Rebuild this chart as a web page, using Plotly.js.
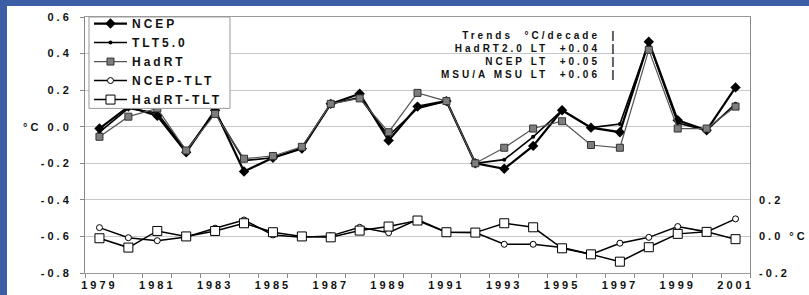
<!DOCTYPE html>
<html>
<head>
<meta charset="utf-8">
<script src="https://cdn.plot.ly/plotly-3.0.1.min.js"></script>
<style>
  html, body { margin: 0; padding: 0; background: #3b5ea6; width: 809px; height: 295px; overflow: hidden; }
  #chart { position: absolute; left: 7px; top: 6px; width: 802px; height: 289px; background: #ffffff; }
  .xtick text, .x2tick text, .ytick text, .y2tick text { letter-spacing: 3px; }
  .legendtext { letter-spacing: 3px; }
  .annotation-text { letter-spacing: 3px; }
</style>
</head>
<body>
<div id="chart"></div>
<script>
// ---- data ----
const years = [1979,1980,1981,1982,1983,1984,1985,1986,1987,1988,1989,1990,1991,1992,1993,1994,1995,1996,1997,1998,1999,2000,2001];
const yearLabels = [1979,1981,1983,1985,1987,1989,1991,1993,1995,1997,1999,2001];
const ncep   = [-0.01, 0.11, 0.06, -0.14, 0.09, -0.245, -0.17, -0.12, 0.125, 0.18, -0.075, 0.11, 0.14, -0.20, -0.23, -0.105, 0.09, -0.005, -0.03, 0.465, 0.035, -0.02, 0.215];
const tlt    = [-0.03, 0.10, 0.075, -0.13, 0.08, -0.185, -0.17, -0.115, 0.125, 0.16, -0.05, 0.10, 0.14, -0.20, -0.18, -0.055, 0.09, -0.005, 0.015, 0.46, 0.02, -0.02, 0.125];
const hadrt  = [-0.055, 0.055, 0.10, -0.13, 0.07, -0.175, -0.16, -0.11, 0.125, 0.155, -0.03, 0.185, 0.14, -0.20, -0.115, -0.01, 0.03, -0.10, -0.115, 0.42, -0.01, -0.01, 0.11];
const ncepTlt  = [0.048, -0.007, -0.023, -0.003, 0.045, 0.09, 0.008, -0.005, 0.003, 0.05, 0.02, 0.092, 0.023, 0.021, -0.043, -0.043, -0.06, -0.098, -0.037, -0.005, 0.054, 0.025, 0.096];
const hadrtTlt = [-0.01, -0.061, 0.03, 0.0, 0.03, 0.072, 0.023, 0.0, -0.005, 0.032, 0.054, 0.087, 0.023, 0.021, 0.072, 0.05, -0.065, -0.098, -0.138, -0.059, 0.014, 0.025, -0.015];
const leftTicks = [-0.8,-0.6,-0.4,-0.2,0.0,0.2,0.4,0.6];
const leftTickText = ['-0.8','-0.6','-0.4','-0.2','0.0','0.2','0.4','0.6'];
const rightTicks = [-0.2, 0.0, 0.2];
const rightTickText = ['-0.2', '0.0 \u00B0C', '0.2'];
const trendLines = ['Trends\u00A0\u00A0\u00B0C/decade\u00A0\u00A0|', 'HadRT2.0 LT\u00A0\u00A0+0.04\u00A0\u00A0|', 'NCEP LT\u00A0\u00A0+0.05\u00A0\u00A0|', 'MSU/A MSU LT\u00A0\u00A0+0.06\u00A0\u00A0|'];

const FONT = 'Liberation Sans, Arial, Helvetica, sans-serif';

const traces = [
  { name: 'NCEP', x: years, y: ncep, type: 'scatter', mode: 'lines+markers',
    line: { color: '#000', width: 2.2 },
    marker: { symbol: 'diamond', size: 8, color: '#000' } },
  { name: 'TLT5.0', x: years, y: tlt, type: 'scatter', mode: 'lines+markers',
    line: { color: '#000', width: 1.6 },
    marker: { symbol: 'circle', size: 4, color: '#000' } },
  { name: 'HadRT', x: years, y: hadrt, type: 'scatter', mode: 'lines+markers',
    line: { color: '#555', width: 1.2 },
    marker: { symbol: 'square', size: 7, color: '#7e7e7e', line: { color: '#333', width: 1 } } },
  { name: 'NCEP-TLT', x: years, y: ncepTlt, yaxis: 'y2', type: 'scatter', mode: 'lines+markers',
    line: { color: '#000', width: 1.5 },
    marker: { symbol: 'circle', size: 6, color: '#fff', line: { color: '#000', width: 1 } } },
  { name: 'HadRT-TLT', x: years, y: hadrtTlt, yaxis: 'y2', type: 'scatter', mode: 'lines+markers',
    line: { color: '#000', width: 1.5 },
    marker: { symbol: 'square', size: 9, color: '#fff', line: { color: '#000', width: 1 } } },
  // invisible trace carrying the year labels on a second x axis
  { x: years, y: ncep, xaxis: 'x2', type: 'scatter', mode: 'none', showlegend: false, hoverinfo: 'skip' }
];

const layout = {
  width: 802, height: 289,
  margin: { l: 78, r: 59, t: 11, b: 22, autoexpand: false },
  paper_bgcolor: '#ffffff', plot_bgcolor: '#ffffff',
  font: { family: FONT, size: 11, color: '#111', weight: 'bold' },
  showlegend: true,
  legend: {
    x: 0.006, y: 1.031, xanchor: 'left', yanchor: 'top',
    bgcolor: 'rgba(0,0,0,0)', borderwidth: 0,
    font: { family: FONT, size: 12, color: '#111', weight: 'bold' },
    itemwidth: 33, tracegroupgap: 0
  },
  shapes: [
    { type: 'rect', xref: 'paper', yref: 'paper', x0: 0.006, x1: 0.218, y0: 0.643, y1: 1.0,
      layer: 'above', fillcolor: '#ffffff', line: { color: '#999', width: 1 } }
  ],
  xaxis: {
    range: [1978.5, 2001.5], tickmode: 'linear', tick0: 1978.5, dtick: 1,
    ticks: 'outside', ticklen: 4, tickcolor: '#888', showticklabels: false,
    showline: true, linecolor: '#999', linewidth: 1, mirror: true,
    showgrid: false, zeroline: false, fixedrange: true
  },
  xaxis2: {
    overlaying: 'x', matches: 'x', range: [1978.5, 2001.5], side: 'bottom', anchor: 'y',
    tickmode: 'array', tickvals: yearLabels, ticktext: yearLabels.map(String),
    ticks: '', ticklabelstandoff: 4, showline: false, showgrid: false, zeroline: false,
    tickfont: { family: FONT, size: 11, color: '#111', weight: 'bold' }
  },
  yaxis: {
    range: [-0.8, 0.6], tickmode: 'array', tickvals: leftTicks, ticktext: leftTickText,
    ticks: 'outside', ticklen: 4, tickcolor: '#888', ticklabelstandoff: 6,
    showline: true, linecolor: '#888', linewidth: 1, mirror: true,
    showgrid: true, gridcolor: '#c8c8c8', gridwidth: 1, zeroline: false,
    tickfont: { family: FONT, size: 11, color: '#111', weight: 'bold' }
  },
  yaxis2: {
    overlaying: 'y', side: 'right', anchor: 'x', range: [-0.2, 1.2],
    tickmode: 'array', tickvals: rightTicks, ticktext: rightTickText,
    ticks: '', ticklabelstandoff: 8, showline: false, showgrid: false, zeroline: false,
    tickfont: { family: FONT, size: 11, color: '#111', weight: 'bold' }
  },
  annotations: [
    { xref: 'paper', yref: 'y', x: -0.08, y: 0, xanchor: 'center', yanchor: 'middle',
      text: '\u00B0C', showarrow: false, font: { family: FONT, size: 11, color: '#111', weight: 'bold' } },
    { xref: 'paper', yref: 'paper', x: 0.803, y: 0.957, xanchor: 'right', yanchor: 'top', align: 'right',
      text: trendLines.join('<br>'), showarrow: false,
      font: { family: FONT, size: 10, color: '#111', weight: 'bold' } }
  ]
};

Plotly.newPlot('chart', traces, layout, { staticPlot: true, displayModeBar: false });
</script>
</body>
</html>
